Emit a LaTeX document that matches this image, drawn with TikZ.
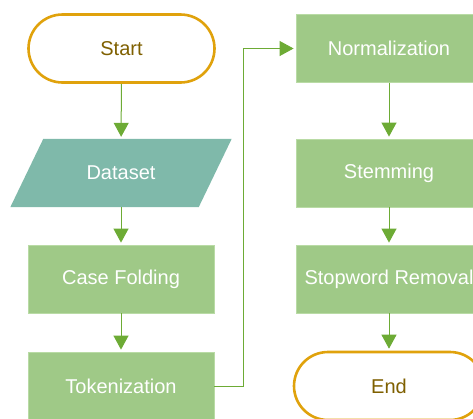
\documentclass[tikz,border=0pt]{standalone}
\usepackage{fontspec}
\setmainfont{Liberation Sans}
\usetikzlibrary{arrows.meta}

\definecolor{procfill}{HTML}{9FC987}
\definecolor{procedge}{HTML}{B9DBA5}
\definecolor{datafill}{HTML}{7FB9AA}
\definecolor{termedge}{HTML}{E0A20C}
\definecolor{termtext}{HTML}{7F6000}
\definecolor{flowline}{HTML}{6DAB35}

\tikzset{
  label text/.style={font=\fontsize{20}{24}\selectfont, inner sep=0pt},
  procbox/.style={label text, fill=procfill, draw=procedge, line width=0.8pt,
    minimum width=186pt, minimum height=68pt, text=white},
  termbox/.style={label text, draw=termedge, line width=2.6pt, fill=white,
    rounded corners=34pt, minimum width=186pt, minimum height=68pt, text=termtext},
  databox/.style={label text, minimum width=188pt, minimum height=68pt, text=white},
  flow/.style={draw=flowline, line width=1pt,
    -{Triangle[length=14pt,width=15pt]}, shorten >=2pt},
}

\begin{document}
\begin{tikzpicture}[x=1pt,y=-1pt]
\useasboundingbox (0,0) rectangle (473,418);
\clip (0,0) rectangle (473,418);

% left column
\node[termbox] (start) at (121.5,48.5) {Start};
\node[databox] (dataset) at (121,173) {};
\fill[datafill] ([xshift=16.5pt]dataset.north west) -- ([xshift=16.5pt]dataset.north east)
  -- ([xshift=-16.5pt]dataset.south east) -- ([xshift=-16.5pt]dataset.south west) -- cycle;
\node[databox] at (dataset) {Dataset};
\node[procbox] (case) at (121,279) {Case Folding};
\node[procbox] (token) at (121,386) {Tokenization};

% right column
\node[procbox] (norm) at (389,48.5) {Normalization};
\node[procbox] (stem) at (389,173) {Stemming};
\node[procbox] (stop) at (389,279) {Stopword Removal};
\node[termbox, minimum width=190pt] (end) at (389,386) {End};

% connectors
\draw[flow] (start) -- (dataset);
\draw[flow] (dataset) -- (case);
\draw[flow] (case) -- (token);
\coordinate (bendlow) at (243.5,386);
\coordinate (bendhigh) at (243.5,48.5);
\draw[flow] (token.east) -- (bendlow) -- (bendhigh) -- (norm.west);
\draw[flow] (norm) -- (stem);
\draw[flow] (stem) -- (stop);
\draw[flow] (stop) -- (end);
\end{tikzpicture}
\end{document}
